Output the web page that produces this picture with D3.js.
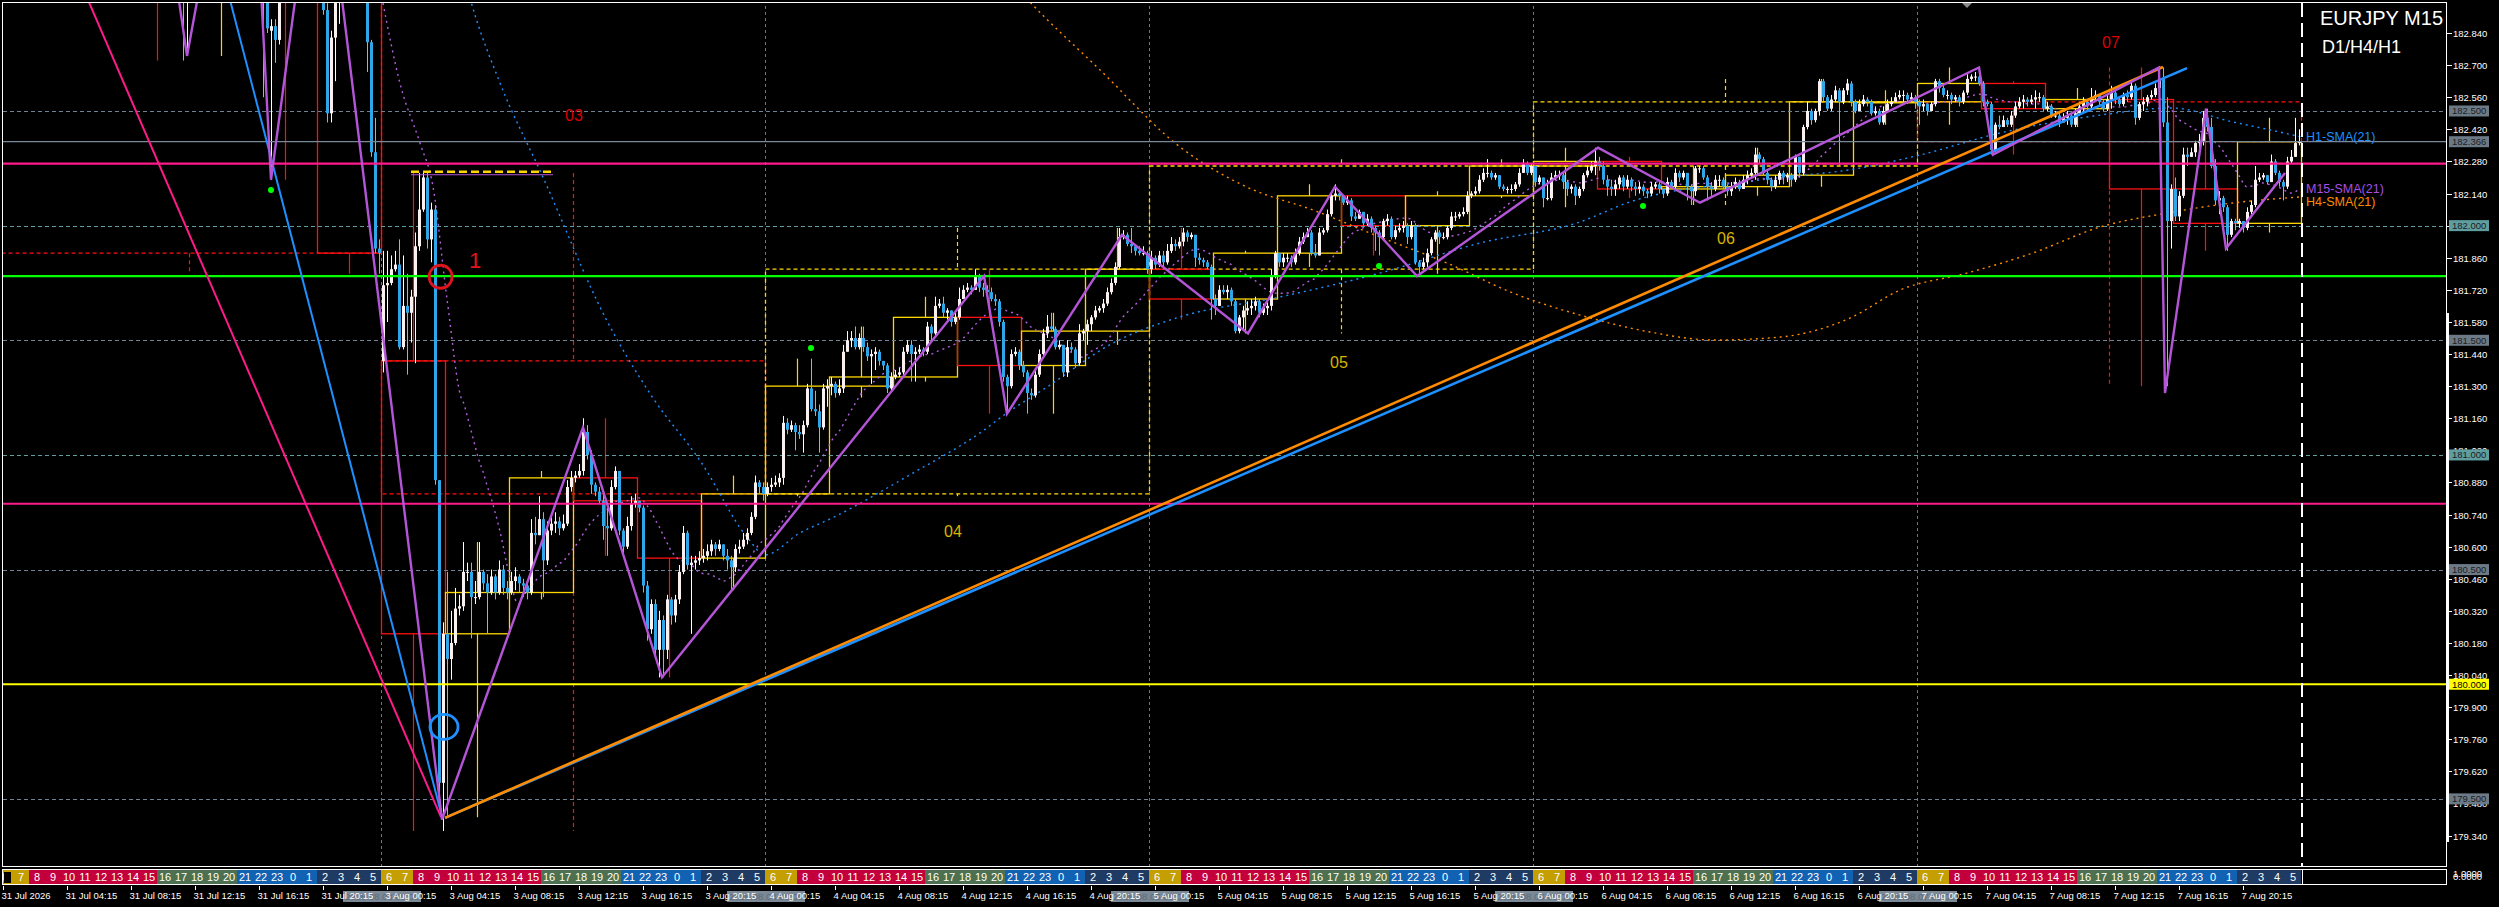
<!DOCTYPE html>
<html><head><meta charset="utf-8">
<script src="https://cdn.jsdelivr.net/npm/d3@7"></script>
<style>html,body{margin:0;padding:0;background:#000;overflow:hidden}svg{display:block}text{font-family:"Liberation Sans",Arial,sans-serif}</style>
</head><body><svg id="c" width="2499" height="907"></svg>
<script>
// ---------------- DATA ----------------
const firstBar = 96;          // 3 Aug 00:00 (M15 bar index from 31 Jul 00:00)
const sessionOpen = 181.41;   // weekend gap open of 3 Aug
const m15Close = [
181.74,181.75,181.81,181.83,181.47,181.65,181.62,181.69,181.91,182.07,182.21,181.94,182.07,180.89,179.57,180.22,
180.11,180.18,180.33,180.34,180.49,180.49,180.38,180.38,180.49,180.44,180.40,180.47,180.40,180.50,180.42,180.40,
180.45,180.47,180.44,180.43,180.40,180.66,180.65,180.72,180.54,180.67,180.70,180.71,180.68,180.70,180.86,180.90,
180.91,180.93,181.10,181.00,180.87,180.84,180.80,180.69,180.68,180.86,180.93,180.67,180.60,180.69,180.79,180.80,
180.77,180.43,180.24,180.35,180.15,180.28,180.15,180.37,180.30,180.37,180.49,180.66,180.52,180.53,180.54,180.55,
180.56,180.58,180.61,180.59,180.61,180.56,180.54,180.51,180.59,180.60,180.63,180.66,180.73,180.88,180.86,180.83,
180.86,180.87,180.88,180.90,181.14,181.11,181.13,181.10,181.09,181.13,181.29,181.20,181.19,181.12,181.29,181.30,
181.31,181.27,181.29,181.45,181.50,181.51,181.47,181.51,181.47,181.43,181.44,181.45,181.41,181.39,181.29,181.34,
181.35,181.36,181.45,181.48,181.44,181.45,181.46,181.45,181.56,181.53,181.65,181.66,181.62,181.63,181.58,181.60,
181.68,181.72,181.73,181.72,181.78,181.73,181.72,181.71,181.68,181.67,181.58,181.34,181.30,181.44,181.45,181.39,
181.36,181.27,181.26,181.35,181.44,181.53,181.56,181.55,181.47,181.48,181.36,181.47,181.46,181.40,181.53,181.54,
181.57,181.60,181.63,181.64,181.66,181.71,181.75,181.82,181.95,181.96,181.92,181.91,181.89,181.88,181.88,181.81,
181.86,181.83,181.87,181.84,181.89,181.92,181.91,181.93,181.97,181.95,181.96,181.86,181.85,181.84,181.82,181.68,
181.65,181.72,181.71,181.72,181.67,181.54,181.60,181.63,181.64,181.65,181.67,181.62,181.64,181.65,181.78,181.88,
181.84,181.86,181.86,181.84,181.88,181.93,181.95,181.97,181.88,181.87,181.97,181.98,182.05,182.13,182.14,182.13,
182.10,182.11,182.04,182.03,182.06,182.01,182.03,181.99,181.97,181.95,182.02,182.03,181.95,181.98,181.99,182.00,
181.95,182.00,181.84,181.82,181.84,181.88,181.94,181.97,181.95,181.95,181.99,182.04,182.04,182.05,182.06,182.13,
182.14,182.15,182.20,182.23,182.23,182.21,182.22,182.17,182.16,182.16,182.16,182.18,182.23,182.27,182.23,182.26,
182.19,182.21,182.12,182.12,182.21,182.22,182.22,182.19,182.16,182.17,182.13,182.16,182.22,182.24,182.26,182.28,
182.26,182.20,182.17,182.16,182.18,182.21,182.17,182.20,182.17,182.16,182.17,182.15,182.14,182.17,182.18,182.16,
182.14,182.19,182.17,182.23,182.21,182.23,182.17,182.15,182.25,182.25,182.21,182.17,182.16,182.20,182.20,182.17,
182.15,182.17,182.19,182.16,182.20,182.22,182.23,182.31,182.29,182.23,182.20,182.17,182.20,182.23,182.21,182.22,
182.20,182.30,182.23,182.43,182.50,182.46,182.50,182.63,182.56,182.51,182.55,182.59,182.54,182.59,182.62,182.54,
182.50,182.53,182.55,182.54,182.49,182.50,182.45,182.50,182.53,182.54,182.56,182.57,182.57,182.55,182.56,182.54,
182.52,182.53,182.50,182.53,182.63,182.60,182.57,182.57,182.55,182.56,182.54,182.58,182.64,182.65,182.65,182.62,
182.54,182.53,182.33,182.44,182.43,182.46,182.44,182.48,182.52,182.54,182.55,182.54,182.55,182.56,182.56,182.51,
182.52,182.48,182.48,182.45,182.47,182.48,182.44,182.49,182.52,182.54,182.52,182.56,182.57,182.54,182.51,182.55,
182.58,182.55,182.53,182.57,182.56,182.61,182.47,182.53,182.54,182.56,182.57,182.60,182.64,182.45,182.02,182.16,
182.04,182.13,182.31,182.30,182.32,182.36,182.37,182.47,182.43,182.26,182.11,182.12,182.08,181.96,182.02,182.01,
182.02,181.99,182.06,182.09,182.20,182.21,182.22,182.19,182.28,182.23,182.19,182.17,182.28,182.30,182.36,182.366];
const m15High = [
181.89,181.89,181.87,181.89,181.94,181.87,181.79,181.72,181.97,182.23,182.23,182.23,182.10,182.09,180.89,180.27,
180.49,180.32,180.42,180.39,180.62,180.53,180.53,180.45,180.62,180.50,180.48,180.50,180.48,180.54,180.52,180.45,
180.49,180.51,180.48,180.46,180.45,180.72,180.73,180.82,180.75,180.71,180.74,180.75,180.73,180.74,180.89,180.93,
180.93,180.96,181.16,181.13,181.02,180.88,180.86,180.84,180.77,180.89,180.95,180.93,180.68,180.73,180.82,180.83,
180.80,180.78,180.45,180.37,180.37,180.32,180.30,180.39,180.38,180.39,180.52,180.69,180.67,180.56,180.56,180.58,
180.59,180.61,180.63,180.62,180.63,180.61,180.59,180.56,180.61,180.63,180.66,180.68,180.75,180.91,180.89,180.88,
180.88,180.90,180.91,180.92,181.17,181.16,181.15,181.14,181.13,181.15,181.31,181.42,181.28,181.22,181.31,181.33,
181.34,181.32,181.33,181.48,181.54,181.54,181.56,181.53,181.56,181.49,181.46,181.47,181.46,181.41,181.40,181.36,
181.37,181.38,181.47,181.50,181.50,181.47,181.48,181.47,181.58,181.57,181.69,181.68,181.69,181.64,181.62,181.62,
181.73,181.74,181.75,181.74,181.81,181.79,181.75,181.74,181.73,181.70,181.68,181.59,181.35,181.46,181.47,181.46,
181.41,181.37,181.29,181.37,181.46,181.55,181.61,181.62,181.56,181.50,181.48,181.50,181.49,181.47,181.57,181.55,
181.59,181.61,181.65,181.65,181.68,181.73,181.77,181.84,181.99,181.98,181.97,181.99,181.92,181.91,181.91,181.89,
181.89,181.87,181.89,181.89,181.92,181.95,181.94,181.95,181.99,181.98,181.97,181.96,181.88,181.86,181.85,181.83,
181.70,181.74,181.74,181.74,181.73,181.68,181.61,181.65,181.67,181.68,181.69,181.68,181.66,181.68,181.81,181.89,
181.88,181.88,181.88,181.87,181.90,181.95,181.97,181.99,181.98,181.92,181.99,181.99,182.07,182.15,182.18,182.15,
182.13,182.13,182.12,182.06,182.07,182.06,182.05,182.04,182.00,181.98,182.03,182.05,182.04,182.00,182.01,182.02,
182.01,182.02,182.01,181.85,181.86,181.90,181.95,181.98,181.98,181.97,182.00,182.06,182.06,182.06,182.08,182.15,
182.15,182.17,182.22,182.25,182.29,182.24,182.23,182.22,182.18,182.17,182.18,182.19,182.25,182.29,182.28,182.27,
182.26,182.22,182.21,182.20,182.23,182.24,182.24,182.23,182.20,182.18,182.18,182.17,182.23,182.26,182.28,182.34,
182.30,182.28,182.22,182.20,182.20,182.22,182.22,182.22,182.21,182.19,182.19,182.18,182.16,182.19,182.19,182.19,
182.16,182.21,182.20,182.25,182.24,182.24,182.23,182.18,182.26,182.26,182.26,182.22,182.19,182.22,182.22,182.21,
182.18,182.19,182.21,182.20,182.22,182.24,182.25,182.34,182.32,182.30,182.24,182.21,182.22,182.24,182.24,182.23,
182.23,182.31,182.30,182.44,182.54,182.51,182.51,182.64,182.64,182.57,182.57,182.61,182.60,182.60,182.64,182.63,
182.55,182.55,182.57,182.56,182.55,182.52,182.51,182.52,182.55,182.56,182.58,182.59,182.59,182.58,182.58,182.57,
182.55,182.55,182.53,182.54,182.64,182.64,182.61,182.59,182.58,182.57,182.57,182.59,182.66,182.66,182.67,182.69,
182.63,182.55,182.54,182.45,182.48,182.48,182.47,182.50,182.54,182.56,182.57,182.56,182.57,182.59,182.58,182.57,
182.54,182.53,182.50,182.50,182.49,182.50,182.49,182.51,182.54,182.56,182.55,182.60,182.59,182.57,182.55,182.57,
182.61,182.59,182.56,182.58,182.59,182.63,182.62,182.54,182.56,182.57,182.59,182.62,182.67,182.69,182.56,182.18,
182.21,182.15,182.34,182.34,182.34,182.37,182.40,182.50,182.51,182.47,182.29,182.15,182.13,182.09,182.03,182.03,
182.03,182.02,182.08,182.11,182.26,182.23,182.23,182.22,182.31,182.29,182.24,182.20,182.30,182.33,182.47,182.42];
const m15Low = [
181.36,181.58,181.74,181.80,181.46,181.46,181.35,181.49,181.40,181.89,182.06,181.90,181.84,180.87,179.46,179.36,
179.42,180.02,180.17,180.30,180.32,180.45,180.20,180.35,180.37,180.41,180.22,180.39,180.37,180.39,180.39,180.37,
180.39,180.41,180.40,180.38,180.37,180.39,180.61,180.65,180.38,180.52,180.65,180.66,180.65,180.67,180.69,180.84,
180.88,180.90,180.91,180.98,180.83,180.82,180.79,180.63,180.56,180.67,180.85,180.65,180.56,180.59,180.67,180.77,
180.75,180.40,180.19,180.22,180.13,180.03,180.03,180.11,180.26,180.27,180.35,180.48,180.50,180.22,180.50,180.52,
180.53,180.54,180.56,180.56,180.58,180.54,180.50,180.41,180.49,180.57,180.59,180.61,180.65,180.72,180.83,180.80,
180.82,180.84,180.86,180.86,180.87,181.09,181.10,181.02,181.07,181.01,181.12,181.19,181.17,181.01,181.11,181.21,
181.26,181.25,181.26,181.27,181.45,181.47,181.46,181.46,181.45,181.41,181.31,181.37,181.39,181.37,181.27,181.28,
181.33,181.34,181.35,181.44,181.32,181.32,181.44,181.43,181.44,181.50,181.52,181.64,181.60,181.59,181.56,181.57,
181.59,181.68,181.71,181.70,181.72,181.71,181.69,181.69,181.67,181.65,181.56,181.32,181.18,181.29,181.43,181.37,
181.34,181.18,181.24,181.25,181.34,181.43,181.51,181.54,181.46,181.46,181.34,181.34,181.45,181.38,181.39,181.50,
181.48,181.54,181.59,181.62,181.62,181.65,181.70,181.74,181.81,181.94,181.91,181.88,181.87,181.87,181.87,181.79,
181.79,181.81,181.82,181.82,181.83,181.88,181.89,181.90,181.91,181.93,181.94,181.82,181.83,181.82,181.81,181.59,
181.61,181.65,181.70,181.68,181.65,181.53,181.53,181.54,181.61,181.61,181.63,181.60,181.61,181.61,181.63,181.77,
181.82,181.82,181.84,181.82,181.83,181.87,181.92,181.95,181.87,181.86,181.87,181.96,181.97,182.04,182.11,182.11,
182.09,182.09,182.02,182.02,182.03,182.00,182.00,181.97,181.89,181.87,181.94,182.00,181.94,181.94,181.97,181.97,
181.92,181.94,181.83,181.79,181.81,181.82,181.87,181.93,181.92,181.94,181.94,181.98,182.02,182.03,182.04,182.05,
182.12,182.13,182.14,182.19,182.21,182.20,182.20,182.16,182.15,182.14,182.14,182.15,182.17,182.23,182.22,182.22,
182.17,182.18,182.08,182.11,182.11,182.20,182.20,182.16,182.13,182.14,182.09,182.12,182.15,182.21,182.23,182.22,
182.24,182.18,182.13,182.13,182.13,182.16,182.15,182.16,182.15,182.13,182.14,182.13,182.12,182.13,182.16,182.14,
182.12,182.13,182.16,182.16,182.19,182.20,182.11,182.09,182.13,182.23,182.20,182.11,182.13,182.15,182.17,182.16,
182.13,182.13,182.16,182.15,182.16,182.18,182.21,182.20,182.27,182.22,182.18,182.15,182.16,182.18,182.18,182.19,
182.17,182.19,182.21,182.22,182.42,182.44,182.45,182.48,182.54,182.50,182.50,182.54,182.26,182.53,182.57,182.52,
182.49,182.50,182.52,182.52,182.48,182.48,182.44,182.44,182.50,182.52,182.54,182.55,182.54,182.53,182.54,182.51,
182.44,182.50,182.48,182.50,182.52,182.58,182.56,182.55,182.53,182.54,182.52,182.53,182.57,182.63,182.63,182.61,
182.52,182.52,182.31,182.32,182.42,182.43,182.43,182.43,182.47,182.51,182.51,182.52,182.53,182.51,182.54,182.50,
182.50,182.47,182.47,182.43,182.45,182.44,182.43,182.43,182.48,182.49,182.50,182.51,182.55,182.52,182.50,182.50,
182.51,182.53,182.52,182.52,182.54,182.55,182.44,182.46,182.50,182.52,182.55,182.56,182.59,182.43,181.30,181.90,
182.02,182.02,182.12,182.26,182.30,182.30,182.34,182.35,182.41,182.25,182.09,182.05,182.06,181.89,181.95,181.98,
181.99,181.97,181.98,182.05,182.08,182.19,182.20,182.18,182.19,182.22,182.17,182.11,182.16,182.27,182.30,182.35];

// 31 Jul bars that reach into the visible price range
const julIdx   = [45,46,47,48,64,65,66,67,68,69,70,71,81,82,83,84,85,91,92,93,94,95];
const julOpen  = [183.20,183.12,183.03,183.10,183.25,183.15,183.10,183.05,182.85,182.87,182.81,183.02,183.10,182.94,182.49,182.82,183.01,183.15,183.07,182.80,182.32,181.90];
const julHigh  = [183.25,183.18,183.15,183.20,183.30,183.20,183.15,183.10,182.90,182.90,183.08,183.10,183.15,182.97,182.85,183.06,183.10,183.20,183.12,182.81,182.47,181.94];
const julLow   = [183.05,182.72,182.74,183.02,183.08,183.00,182.56,182.84,182.20,182.71,182.79,182.98,182.92,182.45,182.45,182.63,182.88,183.03,182.67,182.30,181.88,181.79];
const julClose = [183.12,183.03,183.10,183.16,183.15,183.10,183.05,182.86,182.87,182.81,183.02,183.06,182.94,182.49,182.82,183.01,183.05,183.07,182.80,182.32,181.90,181.88];
const julH4Open  = [184.00,183.70,183.40,183.05,183.30,183.05];
const julH4High  = [184.30,183.90,183.60,183.50,183.40,183.20];
const julH4Low   = [183.60,183.30,182.72,182.74,182.20,181.79];
const julH4Close = [183.70,183.40,183.05,183.30,183.05,181.88];
const julD1OHLC  = [184.00,184.30,181.79,181.88];

// levels
const dashedLevels = [182.5,182.0,181.5,181.0,180.5,179.5];
const bidLevel = 182.366;
const pinkLevels = [182.27,180.787];
const greenLevel = 181.78;
const yellowLevel = 180.0;
const markedPrices = [182.5,182.366,182.0,181.5,181.0,180.5,180.0,179.5];
const priceTicks = [182.84,182.70,182.56,182.42,182.28,182.14,182.00,181.86,181.72,181.58,181.44,181.30,181.16,181.02,180.88,180.74,180.60,180.46,180.32,180.18,180.04,179.90,179.76,179.62,179.48,179.34];

// zigzag pivots, trend lines, averages (bar index, price)
const zzBars   = [43,47,51,64,68,75,83,110.75,146,165.75,246.25,252,280.75,312.25,334,354.5,399.75,425.25,495,498.5,540,541.5,551.75,556.75,571.5];
const zzPrices = [183.22,182.74,183.12,183.52,182.20,183.11,183.38,179.41,181.12,180.03,181.78,181.18,181.96,181.53,182.17,181.78,182.34,182.10,182.69,182.31,182.69,181.27,182.51,181.90,182.23];
const pinkTrendBars = [22.25,110.5],  pinkTrendPrices = [182.984,179.42];
const blueFanBars   = [57.75,110.5],  blueFanPrices   = [182.984,179.44];
const orangeTrendBars = [111.5,541],  orangeTrendPrices = [179.417,182.692];
const blueTrendBars   = [111.5,547],  blueTrendPrices   = [179.417,182.687];
const h1SmaBars   = [114,118.25,125.25,135.75,151.75,163.5,175.5,187,191.5,200.25,208.25,228.5,245.25,252,262,278.5,295.25,320.25,345.25,370.25,395.25,407,440.25,465.25,480.25,500.25,525.25,543.25,558.5,570.25,575.75];
const h1SmaPrices = [183.246,182.962,182.622,182.221,181.593,181.248,180.969,180.642,180.564,180.660,180.725,180.921,181.096,181.183,181.296,181.488,181.602,181.689,181.793,181.924,182.016,182.099,182.199,182.251,182.308,182.404,182.482,182.513,182.452,182.408,182.386];
const h4SmaBars   = [252.75,257.25,275.25,295.25,312,328.5,345.25,362,378.5,395.25,412.75,428.75,445.25,462.75,475.25,492,508.5,525.25,542,558.5,575.25];
const h4SmaPrices = [183.07,182.984,182.679,182.343,182.168,182.068,181.950,181.837,181.706,181.610,181.536,181.501,181.514,181.597,181.719,181.793,181.881,181.994,182.055,182.099,182.125];
const m15SmaEarlyBars   = [96,100.25,105.25,108.5,112,115.75];
const m15SmaEarlyPrices = [182.97,182.62,182.36,182.17,181.68,181.24];
const fractalBars = [68,203,345,411], fractalPrices = [182.155,181.466,181.824,182.086];
const dayLabels = ["03","04","05","06","07"];
const dayLabelBars = [143.75,238.5,335,431.75,528], dayLabelPrices = [182.482,180.668,181.405,181.946,182.801];
const highMarkBars = [103,138.5], highMarkPrice = 182.235;
const redCircle = [110.4,181.777], blueCircle = [111.25,179.814], signalLabel = [117.5,181.85];
const timeLabels = [
"31 Jul 2026","31 Jul 04:15","31 Jul 08:15","31 Jul 12:15","31 Jul 16:15","31 Jul 20:15",
"3 Aug 00:15","3 Aug 04:15","3 Aug 08:15","3 Aug 12:15","3 Aug 16:15","3 Aug 20:15",
"4 Aug 00:15","4 Aug 04:15","4 Aug 08:15","4 Aug 12:15","4 Aug 16:15","4 Aug 20:15",
"5 Aug 00:15","5 Aug 04:15","5 Aug 08:15","5 Aug 12:15","5 Aug 16:15","5 Aug 20:15",
"6 Aug 00:15","6 Aug 04:15","6 Aug 08:15","6 Aug 12:15","6 Aug 16:15","6 Aug 20:15",
"7 Aug 00:15","7 Aug 04:15","7 Aug 08:15","7 Aug 12:15","7 Aug 16:15","7 Aug 20:15"];
const separatorLabels = ["2026.08.03 00:00","2026.08.04 00:00","2026.08.05 00:00","2026.08.06 00:00","2026.08.07 00:00"];

// ---------------- DRAW ----------------
const svg = d3.select('#c');
const X = d3.scaleLinear().domain([0,576]).range([-1,2303]);
const Y = d3.scaleLinear().domain([182.984, 182.984 - 866/229.3]).range([0,866]);
const PR = 2446.5, PB = 866.5;
const line = d3.line().x(d=>X(d[0])).y(d=>Y(d[1]));
const smooth = d3.line().x(d=>X(d[0])).y(d=>Y(d[1])).curve(d3.curveMonotoneX);

svg.append('rect').attr('width',2499).attr('height',907).attr('fill','#000');
svg.append('defs').append('clipPath').attr('id','plot').append('rect').attr('x',3).attr('y',3).attr('width',PR-3).attr('height',PB-3);
const plot = svg.append('g').attr('clip-path','url(#plot)');

const bars = [];
julIdx.forEach((b,i)=>bars.push({b,o:julOpen[i],h:julHigh[i],l:julLow[i],c:julClose[i]}));
m15Close.forEach((c,j)=>bars.push({b:firstBar+j,o:j?m15Close[j-1]:sessionOpen,h:m15High[j],l:m15Low[j],c}));
const main = bars.filter(d=>d.b>=firstBar);
const agg = list=>({o:list[0].o,c:list[list.length-1].c,h:d3.max(list,d=>Math.max(d.h,d.o,d.c)),l:d3.min(list,d=>Math.min(d.l,d.o,d.c))});
const h4 = julH4Open.map((o,k)=>({k,o,h:julH4High[k],l:julH4Low[k],c:julH4Close[k]}));
d3.groups(main,d=>Math.floor(d.b/16)).forEach(([k,list])=>h4.push({k,...agg(list)}));
const d1 = [{k:0,o:julD1OHLC[0],h:julD1OHLC[1],l:julD1OHLC[2],c:julD1OHLC[3]}];
d3.groups(main,d=>Math.floor(d.b/96)).forEach(([k,list])=>d1.push({k,...agg(list)}));

// grid: day separators
[1,2,3,4,5].forEach(d=>{
  const x = X(96*d)-2;
  plot.append('line').attr('x1',x+0.5).attr('x2',x+0.5).attr('y1',0).attr('y2',PB)
    .attr('stroke','#667788').attr('stroke-dasharray','3,3');
});

function drawBoxes(list, span, dashed){
  const g = plot.append('g');
  list.forEach(d=>{
    const left = X(d.k*span)-2, right = X((d.k+1)*span)-2, cx = Math.round((left+right)/2)+0.5;
    const col = d.c>=d.o ? '#ffd700' : '#ff1010';
    const top = Y(Math.max(d.o,d.c)), bot = Y(Math.min(d.o,d.c));
    const da = dashed ? '4,3' : null;
    g.append('rect').attr('x',left+0.5).attr('y',top).attr('width',right-left).attr('height',Math.max(1,bot-top))
      .attr('fill','none').attr('stroke',col).attr('stroke-width',1.3).attr('stroke-dasharray',da);
    g.append('line').attr('x1',cx).attr('x2',cx).attr('y1',Y(d.h)).attr('y2',top).attr('stroke',col).attr('stroke-width',1.2).attr('stroke-dasharray',da);
    g.append('line').attr('x1',cx).attr('x2',cx).attr('y1',bot).attr('y2',Y(d.l)).attr('stroke',col).attr('stroke-width',1.2).attr('stroke-dasharray',da);
  });
}
drawBoxes(d1, 96, true);
drawBoxes(h4, 16, false);

// dashed round-number levels
dashedLevels.forEach(p=>{
  plot.append('line').attr('x1',3).attr('x2',PR).attr('y1',Math.round(Y(p))+0.5).attr('y2',Math.round(Y(p))+0.5)
    .attr('stroke', p%1===0 ? '#5f9ea0' : '#6f8296').attr('stroke-dasharray','4,3');
});

// moving averages
const m15Sma = m15SmaEarlyBars.map((b,i)=>[b,m15SmaEarlyPrices[i]]);
for(let b=116;b<=575;b++){ m15Sma.push([b, d3.mean(m15Close.slice(b-20-firstBar,b+1-firstBar))]); }
plot.append('path').attr('d',smooth(h4SmaBars.map((b,i)=>[b,h4SmaPrices[i]]))).attr('fill','none').attr('stroke','#ff8c00').attr('stroke-width',1.4).attr('stroke-dasharray','2,4');
plot.append('path').attr('d',smooth(h1SmaBars.map((b,i)=>[b,h1SmaPrices[i]]))).attr('fill','none').attr('stroke','#1e90ff').attr('stroke-width',1.4).attr('stroke-dasharray','2,4');
plot.append('path').attr('d',smooth(m15Sma)).attr('fill','none').attr('stroke','#b55ee0').attr('stroke-width',1.4).attr('stroke-dasharray','2,4');

// candles
const cg = plot.append('g');
bars.forEach(d=>{
  const x = Math.round(X(d.b));
  const up = d.c>=d.o;
  const hi = Math.max(d.h,d.o,d.c), lo = Math.min(d.l,d.o,d.c);
  cg.append('line').attr('x1',x+0.5).attr('x2',x+0.5).attr('y1',Y(hi)).attr('y2',Y(lo)).attr('stroke',up?'#ffffff':'#40e0d0');
  const t = Y(Math.max(d.o,d.c)), bt = Y(Math.min(d.o,d.c));
  cg.append('rect').attr('x',x-1).attr('y',t).attr('width',3).attr('height',Math.max(1,bt-t)).attr('fill',up?'#fbf0f0':'#2ea6e8');
});

// solid horizontal levels
const hl = (p,col,w)=>plot.append('line').attr('x1',3).attr('x2',PR).attr('y1',Y(p)).attr('y2',Y(p)).attr('stroke',col).attr('stroke-width',w);
hl(bidLevel,'#778899',1.3);
pinkLevels.forEach(p=>hl(p,'#ff1a8c',2.2));
hl(greenLevel,'#00ff00',2.2);
hl(yellowLevel,'#ffff00',2.2);

// trend lines
const seg = (bs,ps,col,w)=>plot.append('path').attr('d',line(bs.map((b,i)=>[b,ps[i]]))).attr('fill','none').attr('stroke',col).attr('stroke-width',w);
seg(pinkTrendBars,pinkTrendPrices,'#ff1a8c',2);
seg(blueFanBars,blueFanPrices,'#1e90ff',2);
seg(blueTrendBars,blueTrendPrices,'#1e90ff',2.6);
seg(orangeTrendBars,orangeTrendPrices,'#ff8c00',2.6);
// zigzag
plot.append('path').attr('d',line(zzBars.map((b,i)=>[b,zzPrices[i]]))).attr('fill','none').attr('stroke','#b455d8').attr('stroke-width',2.4);
// high mark
plot.append('line').attr('x1',X(highMarkBars[0])).attr('x2',X(highMarkBars[1])).attr('y1',Y(highMarkPrice)+3).attr('y2',Y(highMarkPrice)+3).attr('stroke','#b455d8').attr('stroke-width',1);
plot.append('line').attr('x1',X(highMarkBars[0])).attr('x2',X(highMarkBars[1])).attr('y1',Y(highMarkPrice)).attr('y2',Y(highMarkPrice)).attr('stroke','#ffd700').attr('stroke-width',2.6).attr('stroke-dasharray','8,4');
// fractal dots
fractalBars.forEach((b,i)=>plot.append('circle').attr('cx',X(b)).attr('cy',Y(fractalPrices[i])).attr('r',3).attr('fill','#00ff00'));
// circles and signal label
plot.append('circle').attr('cx',X(redCircle[0])).attr('cy',Y(redCircle[1])).attr('r',11.5).attr('fill','none').attr('stroke','#e0141e').attr('stroke-width',2.8);
plot.append('ellipse').attr('cx',X(blueCircle[0])).attr('cy',Y(blueCircle[1])).attr('rx',14).attr('ry',12.5).attr('fill','none').attr('stroke','#1e90ff').attr('stroke-width',2.8);
plot.append('text').attr('x',X(signalLabel[0])).attr('y',Y(signalLabel[1])+8).attr('font-size',22).attr('fill','#e0141e').text('1');
// day labels
dayLabels.forEach((t,i)=>plot.append('text').attr('x',X(dayLabelBars[i])).attr('y',Y(dayLabelPrices[i])+6)
  .attr('text-anchor','middle').attr('font-size',16).attr('fill', (t==='03'||t==='07')?'#dd0000':'#d8b400').text(t));
// shift marker
plot.append('path').attr('d','M1962,3 L1972,3 L1967,8 Z').attr('fill','#8a8a8a');
// current-bar dashed line
svg.append('line').attr('x1',2302).attr('x2',2302).attr('y1',3).attr('y2',PB).attr('stroke','#fff').attr('stroke-width',2).attr('stroke-dasharray','14,6');

// indicator labels
const lastH1 = h1SmaPrices[h1SmaPrices.length-1], lastH4 = h4SmaPrices[h4SmaPrices.length-1], lastM15 = m15Sma[m15Sma.length-1][1];
svg.append('text').attr('x',2306).attr('y',Y(lastH1)+4).attr('font-size',12.5).attr('fill','#1e90ff').text('H1-SMA(21)');
svg.append('text').attr('x',2306).attr('y',Y(lastM15)+4).attr('font-size',12.5).attr('fill','#a64fe0').text('M15-SMA(21)');
svg.append('text').attr('x',2306).attr('y',Y(lastH4)+9).attr('font-size',12.5).attr('fill','#ff8c00').text('H4-SMA(21)');
svg.append('text').attr('x',2320).attr('y',25).attr('font-size',20).attr('fill','#fff').text('EURJPY M15');
svg.append('text').attr('x',2322).attr('y',53).attr('font-size',18).attr('fill','#fff').text('D1/H4/H1');

// frame
svg.append('rect').attr('x',2.5).attr('y',2.5).attr('width',PR-2.5).attr('height',PB-2.5).attr('fill','none').attr('stroke','#fff');
svg.append('line').attr('x1',2447.5).attr('x2',2447.5).attr('y1',313).attr('y2',842).attr('stroke','#fff').attr('stroke-width',3);

// price axis
priceTicks.forEach(p=>{
  const y = Math.round(Y(p))+0.5;
  svg.append('line').attr('x1',2447).attr('x2',2452).attr('y1',y).attr('y2',y).attr('stroke','#fff');
  svg.append('text').attr('x',2453).attr('y',y+3.5).attr('font-size',9.5).attr('fill','#fff').text(p.toFixed(3));
});
markedPrices.forEach(p=>{
  const y = Y(p);
  const bg = p===180 ? '#ffff00' : (p%1===0 ? '#5f9ea0' : '#6c7a88');
  svg.append('rect').attr('x',2449).attr('y',y-5.5).attr('width',40).attr('height',11).attr('fill',bg);
  svg.append('text').attr('x',2452).attr('y',y+3.5).attr('font-size',9.5).attr('fill',p===180?'#000':'#1c1c1c').text(p.toFixed(3));
});

// hour band
const bandColor = h => (h===6||h===7) ? '#c59e00' : (h>=8&&h<=15) ? '#c4003c' : (h>=16&&h<=20) ? '#4d7050' : (h>=21||h<=1) ? '#1262b4' : '#1f3b63';
const band = svg.append('g');
for(let d=0; d<6; d++) for(let h=0; h<24; h++){
  const left = X(96*d+4*h)-2, bh = (h+6)%24;
  band.append('rect').attr('x',Math.max(3,left)).attr('y',870).attr('width',16 - (left<3?3-left:0)).attr('height',14).attr('fill',bandColor(bh));
  band.append('text').attr('x',left+8).attr('y',881).attr('text-anchor','middle').attr('font-size',11).attr('fill','#fff').text(bh);
}
band.append('rect').attr('x',4).attr('y',872).attr('width',7).attr('height',11).attr('fill','#000');
svg.append('rect').attr('x',2.5).attr('y',869.5).attr('width',PR-2.5).attr('height',15).attr('fill','none').attr('stroke','#fff');
svg.append('line').attr('x1',2302.5).attr('x2',2302.5).attr('y1',869.5).attr('y2',884.5).attr('stroke','#fff');
svg.append('text').attr('x',2453).attr('y',877).attr('font-size',9.5).attr('fill','#fff').text('1.0000');
svg.append('text').attr('x',2453).attr('y',880).attr('font-size',9.5).attr('fill','#fff').text('0.0000');

// time axis
separatorLabels.forEach((t,i)=>{
  const bx = X(96*(i+1))-2;
  svg.append('rect').attr('x',bx-38).attr('y',891).attr('width',78).attr('height',11).attr('fill','#7b8997');
  svg.append('text').attr('x',bx+1).attr('y',900).attr('text-anchor','middle').attr('font-size',9.5).attr('fill','#5d6b79').text(t);
});
timeLabels.forEach((t,i)=>{
  const d = Math.floor(i/6), k = i%6;
  const x = Math.round(X(96*d+1+16*k))+0.5;
  svg.append('line').attr('x1',x).attr('x2',x).attr('y1',886).attr('y2',890).attr('stroke','#fff');
  svg.append('text').attr('x',x-2).attr('y',898.5).attr('font-size',9.5).attr('fill','#fff').text(t);
});
</script></body></html>
